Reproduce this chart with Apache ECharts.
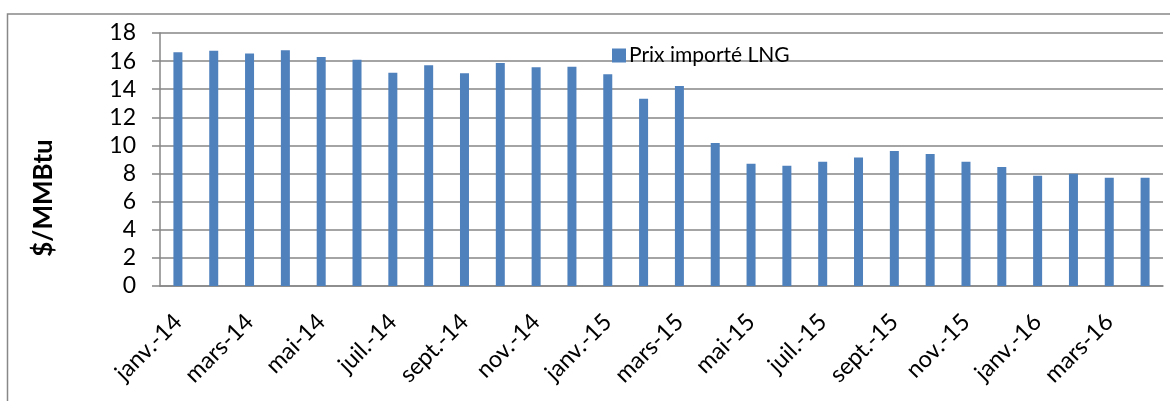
<!DOCTYPE html>
<html>
<head>
<meta charset="utf-8">
<script src="https://cdn.jsdelivr.net/npm/echarts@6/dist/echarts.min.js"></script>
<style>
  html, body { margin: 0; padding: 0; background: #fff; }
  #chart { width: 1170px; height: 401px; }
</style>
</head>
<body>
<div id="chart"></div>
<script>
// months, janv.-14 to avr.-16
const months = [
    'janv.-14', 'févr.-14', 'mars-14', 'avr.-14', 'mai-14', 'juin-14',
    'juil.-14', 'août-14', 'sept.-14', 'oct.-14', 'nov.-14', 'déc.-14',
    'janv.-15', 'févr.-15', 'mars-15', 'avr.-15', 'mai-15', 'juin-15',
    'juil.-15', 'août-15', 'sept.-15', 'oct.-15', 'nov.-15', 'déc.-15',
    'janv.-16', 'févr.-16', 'mars-16', 'avr.-16'
];
const lngPrice = [
    16.63, 16.73, 16.54, 16.77, 16.30, 16.10,
    15.18, 15.70, 15.13, 15.87, 15.56, 15.60,
    15.06, 13.33, 14.23, 10.17, 8.70, 8.55,
    8.84, 9.15, 9.60, 9.39, 8.84, 8.46,
    7.84, 7.98, 7.70, 7.70
];
const seriesName = 'Prix importé LNG';
const yTitle = '$/MMBtu';

const chart = echarts.init(document.getElementById('chart'));
const font = 'Lato, "Open Sans", sans-serif';

chart.setOption({
    animation: false,
    textStyle: { fontFamily: font },
    grid: { left: 160, right: 7, top: 33, bottom: 115 },
    legend: {
        left: 607,
        top: 40,
        itemWidth: 14,
        itemHeight: 14,
        itemGap: 0,
        icon: 'rect',
        textStyle: { fontSize: 21, color: '#000', fontFamily: font, padding: [0, 0, 0, -2] },
        data: [seriesName]
    },
    graphic: [
        {
            type: 'rect',
            shape: { x: 7.5, y: 14, width: 1200, height: 500 },
            style: { fill: 'none', stroke: '#888', lineWidth: 1.5 },
            silent: true
        },
        {
            type: 'text',
            x: 44,
            y: 198,
            rotation: Math.PI / 2,
            style: {
                text: yTitle,
                font: 'bold 26px ' + font,
                fill: '#000',
                align: 'center',
                verticalAlign: 'middle'
            }
        }
    ],
    xAxis: {
        type: 'category',
        data: months,
        axisLine: { lineStyle: { color: '#868686', width: 1.5 } },
        axisTick: { show: false },
        axisLabel: {
            interval: 1,
            rotate: 45,
            margin: 32,
            fontSize: 23.5,
            color: '#000',
            fontFamily: font
        }
    },
    yAxis: {
        type: 'value',
        min: 0,
        max: 18,
        interval: 2,
        axisLine: { show: true, lineStyle: { color: '#868686', width: 1.5 } },
        axisTick: { show: true, length: 8, lineStyle: { color: '#868686', width: 1.5 } },
        splitLine: { lineStyle: { color: '#868686', width: 1.5 } },
        axisLabel: { fontSize: 23, color: '#000', margin: 24, fontFamily: font }
    },
    series: [{
        name: seriesName,
        type: 'bar',
        data: lngPrice,
        barWidth: 9,
        itemStyle: { color: '#4F81BD' }
    }]
});
</script>
</body>
</html>
